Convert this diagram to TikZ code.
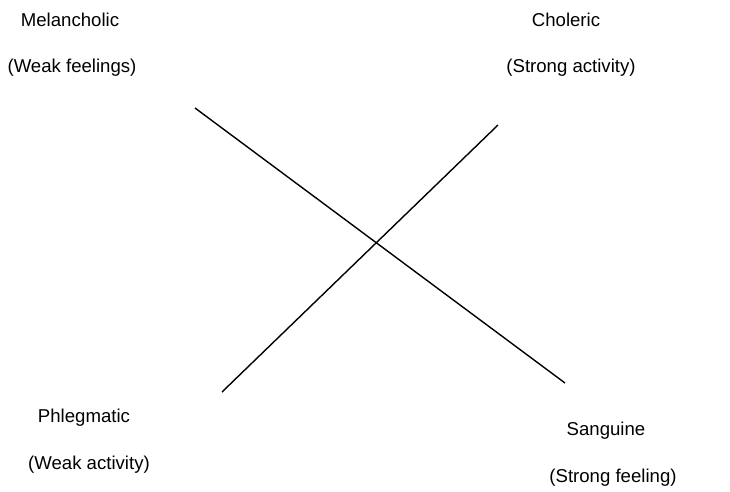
\documentclass[tikz,border=0pt]{standalone}
\usepackage{fontspec}
\setmainfont{Liberation Sans}
\begin{document}
\begin{tikzpicture}[x=1pt,y=-1pt,
  lbl/.style={inner sep=0pt,anchor=center,font=\fontsize{18.6}{22}\selectfont},
  axis/.style={line width=1.4pt,black}]
\useasboundingbox (0,0) rectangle (730,491);
\node[lbl] (mel) at (70,20) {Melancholic};
\node[lbl] (melsub) at (72,68) {(Weak feelings)};
\node[lbl] (cho) at (566,20) {Choleric};
\node[lbl] (chosub) at (571,68) {(Strong activity)};
\node[lbl] (phl) at (84,418) {Phlegmatic};
\node[lbl] (phlsub) at (89,465) {(Weak activity)};
\node[lbl] (san) at (606,431) {Sanguine};
\node[lbl] (sansub) at (613,478) {(Strong feeling)};
\coordinate (a1) at (195,108);
\coordinate (a2) at (565,383);
\coordinate (b1) at (222,392);
\coordinate (b2) at (498,125);
\draw[axis] (a1) -- (a2);
\draw[axis] (b1) -- (b2);
\end{tikzpicture}
\end{document}
